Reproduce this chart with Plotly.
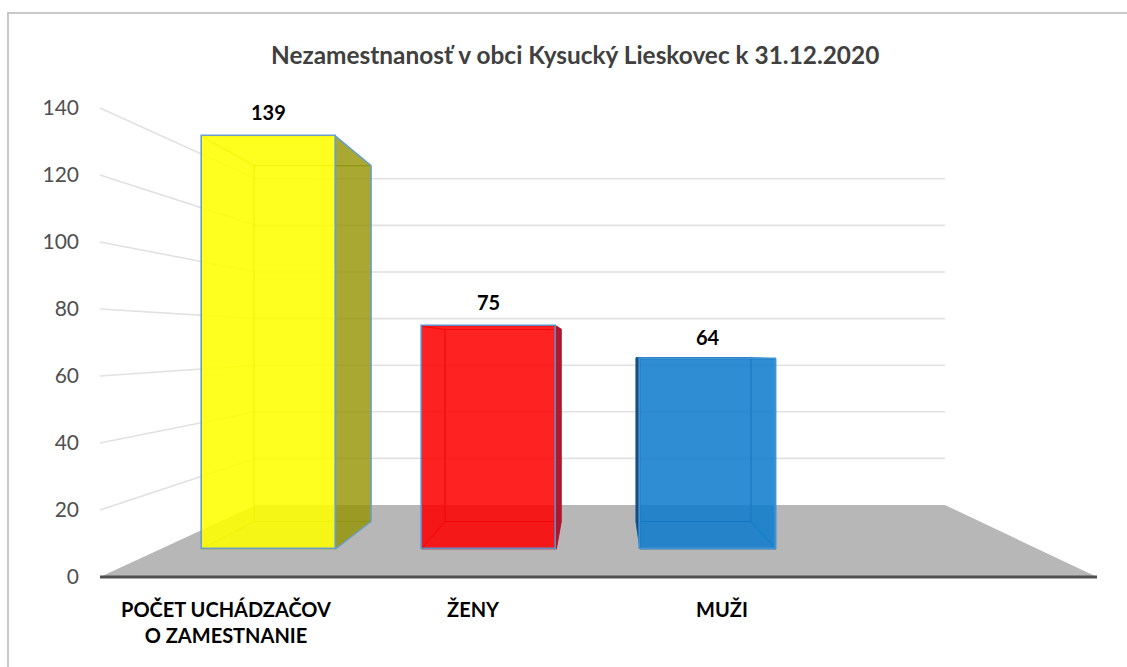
import plotly.graph_objects as go

# ---- data ----
categories = ["POČET UCHÁDZAČOV<br>O ZAMESTNANIE", "ŽENY", "MUŽI"]
values = [139, 75, 64]
tick_values = [0, 20, 40, 60, 80, 100, 120, 140]
title_text = "Nezamestnanosť v obci Kysucký Lieskovec k 31.12.2020"

# ---- layout of the fake-perspective scene (pixel geometry of the 1127x667 page) ----
W, H = 1127, 667
FONT = "Lato"
AX0, AXS = 577.0, 3.35          # left axis: baseline pixel, px per unit
FR0, FRS = 549.0, 2.97          # bar front plane
BB0, BBS = 521.5, 2.56          # bar back plane
WL0, WLS = 505.0, 2.33          # back wall
front_x = [(201.5, 335.5), (421.5, 556), (640, 776)]
back_x = [(254, 371), (445, 561), (636, 751)]
label_x = [226, 473, 722]
wall_left, wall_right, axis_left, axis_right = 256, 945, 100, 1097
face_fill = ["rgba(255,255,0,0.85)", "rgba(255,0,0,0.84)", "rgba(15,125,205,0.84)"]
back_fill = ["rgba(235,235,0,0.2)", "rgba(215,0,0,0.18)", "rgba(0,100,180,0.18)"]
inner_line = ["rgba(150,165,50,0.75)", "rgba(170,20,40,0.6)", "rgba(10,95,175,0.75)"]
left_fill = ["rgba(255,255,0,0.2)", "rgba(220,0,0,0.2)", "rgba(25,65,100,0.95)"]
right_fill = ["rgba(140,140,0,0.75)", "rgba(175,15,35,0.95)", "rgba(0,100,190,0.2)"]
side_edge = ["#6a9fcb", "#b01830", "rgba(40,130,200,0.5)"]
front_edge = ["#6a9fcb", "#5f8fc8", "#3f93d4"]


def ax_from_px(p):
    return (AX0 - p) / AXS


def plane(v, base, scale):
    """Value on a depth plane -> left-axis units."""
    return ax_from_px(base - v * scale)


fr = lambda v: plane(v, FR0, FRS)
bk = lambda v: plane(v, BB0, BBS)
wl = lambda v: plane(v, WL0, WLS)

fig = go.Figure()


def poly(xs, ys, fill, line="rgba(0,0,0,0)", width=0):
    fig.add_trace(go.Scatter(x=xs + xs[:1], y=ys + ys[:1], mode="lines", fill="toself",
                             fillcolor=fill, line=dict(color=line, width=width),
                             hoverinfo="skip", showlegend=False))


# wall and side grid lines
gx, gy = [], []
for t in tick_values[1:]:
    gx += [axis_left, wall_left, wall_right, None]
    gy += [t, wl(t), wl(t), None]
fig.add_trace(go.Scatter(x=gx, y=gy, mode="lines", line=dict(color="#e1e1e1", width=1.6),
                         hoverinfo="skip", showlegend=False))

# floor
poly([axis_left, wall_left, wall_right, axis_right],
     [0, wl(0), wl(0), 0], "#b7b7b7")
# axis base line
fig.add_trace(go.Scatter(x=[axis_left, axis_right], y=[0, 0], mode="lines",
                         line=dict(color="#505050", width=3), hoverinfo="skip", showlegend=False))

# box faces behind the front one
for i, v in enumerate(values):
    fl, frr = front_x[i]
    bl, br = back_x[i]
    poly([bl, br, br, bl], [bk(0), bk(0), bk(v), bk(v)], back_fill[i], inner_line[i], 1)
    poly([fl, frr, br, bl], [fr(0), fr(0), bk(0), bk(0)], back_fill[i], inner_line[i], 1)
    poly([fl, frr, br, bl], [fr(v), fr(v), bk(v), bk(v)], back_fill[i], inner_line[i], 1)
    poly([fl, bl, bl, fl], [fr(0), bk(0), bk(v), fr(v)], left_fill[i], inner_line[i], 1)
    poly([frr, br, br, frr], [fr(0), bk(0), bk(v), fr(v)], right_fill[i], side_edge[i], 1.5)

# front faces: real bars with the real values on the front-plane axis
fig.add_trace(go.Bar(
    x=[(a + b) / 2 for a, b in front_x], y=values, width=[b - a for a, b in front_x],
    yaxis="y2", marker=dict(color=face_fill, line=dict(color=front_edge, width=1.6)),
    showlegend=False, hovertemplate="%{y}<extra></extra>"))

annotations = [dict(x=sum(front_x[i]) / 2 - 0.5, y=v, yref="y2", xref="x", text=f"<b>{v}</b>",
                    showarrow=False, yanchor="middle", yshift=24 if i < 2 else 22,
                    font=dict(family=FONT, size=20, color="#000000"))
               for i, v in enumerate(values)]
annotations.append(dict(x=575 / W, y=(H - 55) / H, xref="paper", yref="paper", showarrow=False,
                        text=f"<b>{title_text}</b>", yanchor="middle",
                        font=dict(family=FONT, size=24.4, color="#404040")))

fig.update_layout(
    width=W, height=H, margin=dict(l=0, r=0, t=0, b=0, pad=0),
    paper_bgcolor="white", plot_bgcolor="white", bargap=0, showlegend=False,
    annotations=annotations,
    xaxis=dict(range=[0, W], domain=[0, 1], anchor="free", position=(H - AX0) / H,
               tickmode="array", tickvals=label_x, ticktext=[f"<b>{c}</b>" for c in categories],
               ticks="outside", ticklen=15, tickcolor="rgba(0,0,0,0)", showgrid=False,
               zeroline=False, showline=False, tickangle=0,
               tickfont=dict(family=FONT, size=20, color="#000000")),
    yaxis=dict(range=[ax_from_px(H), ax_from_px(0)], domain=[0, 1], anchor="free", position=79 / W,
               tickmode="array", tickvals=tick_values, ticks="", showgrid=False,
               zeroline=False, showline=False,
               tickfont=dict(family=FONT, size=21, color="#505050")),
    yaxis2=dict(range=[(FR0 - H) / FRS, FR0 / FRS], overlaying="y", visible=False, domain=[0, 1]),
    shapes=[dict(type="path", xref="paper", yref="paper", layer="below",
                 path=f"M {8 / W} 0 L {8 / W} {(H - 13) / H} L 1 {(H - 13) / H}",
                 line=dict(color="#c8c8c8", width=2))],
)

fig.write_html("out.html", config={"displayModeBar": False},
               post_script="document.body.style.margin='0';")
